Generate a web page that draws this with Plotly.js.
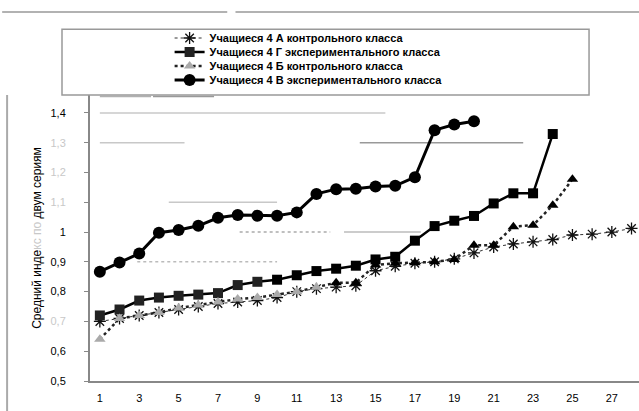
<!DOCTYPE html>
<html>
<head>
<meta charset="utf-8">
<script src="https://cdn.plot.ly/plotly-3.0.1.min.js"></script>
<style>html,body{margin:0;padding:0;background:#fff;}#chart{width:639px;height:411px;}</style>
</head>
<body>
<div id="chart"></div>
<script>
// Data
const namesSeries = [
  "Учащиеся 4 А контрольного класса",
  "Учащиеся 4 Г экспериментального класса",
  "Учащиеся 4 Б контрольного класса",
  "Учащиеся 4 В экспериментального класса"
];
const xA = [1,2,3,4,5,6,7,8,9,10,11,12,13,14,15,16,17,18,19,20,21,22,23,24,25,26,27,28];
const yA = [0.70,0.71,0.72,0.73,0.74,0.75,0.76,0.765,0.77,0.78,0.80,0.81,0.815,0.82,0.87,0.885,0.895,0.90,0.91,0.93,0.95,0.96,0.967,0.975,0.99,0.993,1.0,1.012];
const xG = [1,2,3,4,5,6,7,8,9,10,11,12,13,14,15,16,17,18,19,20,21,22,23,24];
const yG = [0.72,0.74,0.77,0.78,0.786,0.79,0.795,0.822,0.833,0.84,0.855,0.869,0.877,0.887,0.908,0.917,0.971,1.02,1.038,1.054,1.096,1.13,1.13,1.329];
const xB = [1,2,3,4,5,6,7,8,9,10,11,12,13,14,15,16,17,18,19,20,21,22,23,24,25];
const yB = [0.64,0.71,0.72,0.73,0.745,0.755,0.765,0.775,0.78,0.79,0.80,0.815,0.83,0.83,0.889,0.895,0.897,0.90,0.908,0.956,0.956,1.018,1.023,1.09,1.177];
const xV = [1,2,3,4,5,6,7,8,9,10,11,12,13,14,15,16,17,18,19,20];
const yV = [0.867,0.898,0.928,0.998,1.007,1.021,1.048,1.057,1.055,1.055,1.066,1.128,1.144,1.145,1.153,1.155,1.184,1.342,1.361,1.372];
const yTickVals = [0.5,0.6,0.7,0.8,0.9,1.0,1.1,1.2,1.3,1.4];
const yTickText = ["0,5","0,6","<span style='color:#c8c8c8'>0,7</span>","0,8","0,9","1","<span style='color:#c8c8c8'>1,1</span>","<span style='color:#c8c8c8'>1,2</span>","<span style='color:#c8c8c8'>1,3</span>","1,4"];

// faded (blurred in the scan) early points of the lower series
const fade = (xs, upTo, c1, c2) => xs.map(v => v <= upTo ? c1 : c2);

const traces = [
  {x:xA, y:yA, name:namesSeries[0], mode:'lines+markers', legend:'legend',
   line:{color:'#333', width:1, dash:'dot'},
   marker:{symbol:'asterisk-open', size:10, color:'#111', line:{color:fade(xA,14,'#999','#111'), width:1.3}}},
  {x:xG, y:yG, name:namesSeries[1], mode:'lines+markers', legend:'legend2',
   line:{color:'#000', width:2.5},
   marker:{symbol:'square', size:10, color:fade(xG,9,'#222','#000')}},
  {x:xB, y:yB, name:namesSeries[2], mode:'lines+markers', legend:'legend3',
   line:{color:'#222', width:2.5, dash:'dot'},
   marker:{symbol:'triangle-up', size:10, color:fade(xB,12,'#aaa','#000')}},
  {x:xV, y:yV, name:namesSeries[3], mode:'lines+markers', legend:'legend4',
   line:{color:'#000', width:3},
   marker:{symbol:'circle', size:12, color:'#000'}}
];

const gl = (x0,x1,y,dash,col) => ({type:'line', xref:'x', yref:'y', x0:x0, x1:x1, y0:y, y1:y,
  line:{color:col||'#b0b0b0', width:1.5, dash:dash||'solid'}, layer:'below'});

// one legend per row so the rows can be as tight as in the reference
const rowY = px => (381 - px) / 286;
const leg = py => ({x:0.145, y:rowY(py), xref:'paper', yref:'paper', xanchor:'left', yanchor:'middle',
  bgcolor:'rgba(0,0,0,0)', borderwidth:0,
  font:{family:'Liberation Sans, Arial, sans-serif', size:11, weight:'bold', color:'#000'}});

const layout = {
  width:639, height:411,
  margin:{l:90, r:0, t:95, b:30},
  paper_bgcolor:'#fff', plot_bgcolor:'#fff',
  font:{family:'Liberation Sans, Arial, sans-serif', size:11, color:'#111'},
  showlegend:true,
  legend:leg(38), legend2:leg(52), legend3:leg(66), legend4:leg(80),
  xaxis:{range:[0.5,28.38], tick0:1, dtick:2, showgrid:false, zeroline:false,
         showline:true, linecolor:'#888', linewidth:2, ticks:'', ticklabelstandoff:6,
         tickfont:{size:11, color:'#000'}},
  yaxis:{range:[0.5,1.46], tickvals:yTickVals, ticktext:yTickText, showgrid:false, zeroline:false,
         showline:true, linecolor:'#888', linewidth:2, ticks:'outside', ticklen:4, tickcolor:'#888',
         ticklabelstandoff:16, tickfont:{size:11, color:'#000'},
         title:{text:"Средний инде<span style='color:#c8c8c8'>кс по</span> двум сериям", standoff:6,
                font:{size:12, color:'#000'}}},
  shapes:[
    {type:'rect', xref:'paper', yref:'paper', x0:-0.051, x1:0.909, y0:1.0, y1:1.23,
     line:{color:'#999', width:1.5}, fillcolor:'rgba(0,0,0,0)'},
    {type:'line', xref:'paper', yref:'paper', x0:-0.151, x1:-0.151, y0:-0.11, y1:1.0, line:{color:'#aaa', width:2}},
    {type:'line', xref:'paper', yref:'paper', x0:-0.16, x1:0.25, y0:1.29, y1:1.29, line:{color:'#999', width:1.5}},
    {type:'line', xref:'paper', yref:'paper', x0:0.265, x1:1.0, y0:1.29, y1:1.29, line:{color:'#999', width:1.5}},
    gl(1,3.6,1.455), gl(3.7,6.8,1.455,'solid','#999'),
    gl(1,15.5,1.4,'solid','#c8c8c8'),
    gl(1,5.3,1.3,'solid','#c8c8c8'), gl(14.2,22.5,1.3,'solid','#999'),
    gl(4.5,10,1.1,'solid','#c8c8c8'),
    gl(8.1,12.7,1.0,'dot','#aaa'), gl(13.4,17.3,1.0,'solid','#bbb'),
    gl(2.9,10,0.9,'dot','#bbb')
  ]
};

Plotly.newPlot('chart', traces, layout, {displayModeBar:false, staticPlot:true});
</script>
</body>
</html>
